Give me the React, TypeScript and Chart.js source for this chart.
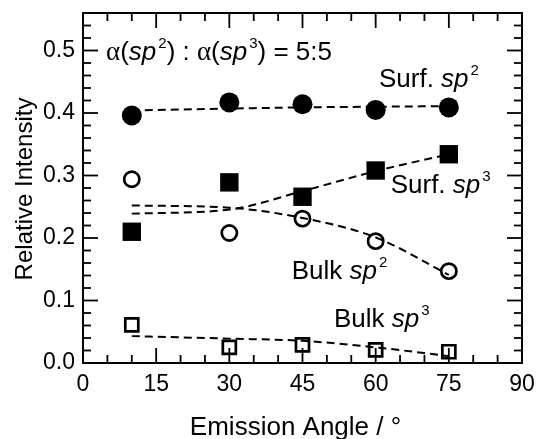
import React, { useEffect, useRef } from 'react';
import { Chart, registerables } from 'chart.js';

Chart.register(...registerables);

const FONT = '"Liberation Sans", Arial, sans-serif';
const SERIF = '"Liberation Serif", "DejaVu Serif", serif';

// Emission angle (deg)
const angles = [10, 30, 45, 60, 75];

// Measured relative intensities
const surfSp2 = [0.396, 0.417, 0.414, 0.405, 0.409];
const surfSp3 = [0.21, 0.289, 0.266, 0.308, 0.334];
const bulkSp2 = [0.294, 0.208, 0.231, 0.195, 0.147];
const bulkSp3 = [0.061, 0.025, 0.029, 0.021, 0.018];

// Calculated (dashed) curves
const surfSp2Fit = [0.404, 0.407, 0.409, 0.41, 0.411];
const surfSp3Fit = [0.239, 0.2455, 0.275, 0.307, 0.334];
const bulkSp2Fit = [0.252, 0.2485, 0.232, 0.201, 0.141];
const bulkSp3Fit = [0.043, 0.039, 0.0355, 0.025, 0.011];

const xTicks = [0, 15, 30, 45, 60, 75, 90];
const yTicks = [0, 0.1, 0.2, 0.3, 0.4, 0.5];

const xTitle = 'Emission Angle / °';
const yTitle = 'Relative Intensity';

// text parts: n = normal, i = italic, s = superscript, g = greek (serif)
type Part = [string, 'n' | 'i' | 's' | 'g'];
const annotations: { x: number; y: number; parts: Part[] }[] = [
  { x: 4.72, y: 0.4844, parts: [['α', 'g'], ['(', 'n'], ['sp', 'i'], ['2', 's'], [') : ', 'n'], ['α', 'g'], ['(', 'n'], ['sp', 'i'], ['3', 's'], [') = 5:5', 'n']] },
  { x: 60.68, y: 0.4423, parts: [['Surf. ', 'n'], ['sp', 'i'], ['2', 's']] },
  { x: 63.08, y: 0.272, parts: [['Surf. ', 'n'], ['sp', 'i'], ['3', 's']] },
  { x: 42.78, y: 0.1347, parts: [['Bulk ', 'n'], ['sp', 'i'], ['2', 's']] },
  { x: 51.46, y: 0.0578, parts: [['Bulk ', 'n'], ['sp', 'i'], ['3', 's']] },
];

const pts = (ys: number[]) => angles.map((a, i) => ({ x: a, y: ys[i] }));

const decorPlugin = {
  id: 'decor',
  afterDraw(chart: any) {
    const { ctx, chartArea: a, scales } = chart;
    const xs = scales.x;
    const ys = scales.y;
    ctx.save();
    ctx.strokeStyle = '#000';
    ctx.fillStyle = '#000';
    ctx.lineWidth = 2;
    ctx.strokeRect(a.left, a.top, a.right - a.left, a.bottom - a.top);
    const seg = (x1: number, y1: number, x2: number, y2: number) => {
      ctx.beginPath();
      ctx.moveTo(x1, y1);
      ctx.lineTo(x2, y2);
      ctx.stroke();
    };
    ctx.lineWidth = 1.8;
    for (let i = 1; i < 18; i++) {
      const px = xs.getPixelForValue(i * 5);
      const len = i % 3 === 0 ? 15 : 8;
      seg(px, a.bottom, px, a.bottom - len);
      seg(px, a.top, px, a.top + len);
    }
    for (let i = 1; i < 28; i++) {
      const py = ys.getPixelForValue(i * 0.02);
      const len = i % 5 === 0 ? 15 : 8;
      seg(a.left, py, a.left + len, py);
      seg(a.right, py, a.right - len, py);
    }
    // annotations
    ctx.textBaseline = 'alphabetic';
    ctx.textAlign = 'left';
    for (const an of annotations) {
      let x = xs.getPixelForValue(an.x);
      const y = ys.getPixelForValue(an.y);
      let prevItalic = false;
      for (const [t, k] of an.parts) {
        if (k === 's') {
          ctx.font = `15px ${FONT}`;
          x += prevItalic ? 2 : 0;
          ctx.fillText(t, x, y - 12);
        } else if (k === 'g') {
          ctx.font = `27px ${SERIF}`;
          ctx.fillText(t, x, y);
        } else {
          ctx.font = `${k === 'i' ? 'italic ' : ''}26px ${FONT}`;
          ctx.fillText(t, x, y);
        }
        x += ctx.measureText(t).width;
        prevItalic = k === 'i';
      }
    }
    // axis titles
    ctx.font = `26px ${FONT}`;
    ctx.textAlign = 'center';
    ctx.fillText(xTitle, (a.left + a.right) / 2 - 7, 435);
    ctx.save();
    ctx.translate(32, (a.top + a.bottom) / 2 + 1);
    ctx.rotate(-Math.PI / 2);
    ctx.font = `24px ${FONT}`;
    ctx.fillText(yTitle, 0, 0);
    ctx.restore();
    ctx.restore();
  },
};

export default function App() {
  const ref = useRef<HTMLCanvasElement>(null);
  useEffect(() => {
    const markerBase = { showLine: false, borderColor: '#000', pointBorderColor: '#000' };
    const lineBase = {
      showLine: true,
      borderColor: '#000',
      borderWidth: 2,
      borderDash: [8, 5],
      pointRadius: 0,
      fill: false,
      cubicInterpolationMode: 'monotone' as const,
    };
    const chart = new Chart(ref.current!, {
      type: 'scatter',
      data: {
        datasets: [
          { ...markerBase, label: 'Surf sp2', data: pts(surfSp2), pointStyle: 'circle', pointRadius: 10, pointBackgroundColor: '#000', pointBorderWidth: 0 },
          { ...markerBase, label: 'Surf sp3', data: pts(surfSp3), pointStyle: 'rect', pointRadius: 13, pointBackgroundColor: '#000', pointBorderWidth: 0 },
          { ...markerBase, label: 'Bulk sp2', data: pts(bulkSp2), pointStyle: 'circle', pointRadius: 7.6, pointBackgroundColor: 'rgba(0,0,0,0)', pointBorderWidth: 2.7 },
          { ...markerBase, label: 'Bulk sp3', data: pts(bulkSp3), pointStyle: 'rect', pointRadius: 9.2, pointBackgroundColor: 'rgba(0,0,0,0)', pointBorderWidth: 2.7 },
          { ...lineBase, label: 'Surf sp2 calc', data: pts(surfSp2Fit) },
          { ...lineBase, label: 'Surf sp3 calc', data: pts(surfSp3Fit) },
          { ...lineBase, label: 'Bulk sp2 calc', data: pts(bulkSp2Fit) },
          { ...lineBase, label: 'Bulk sp3 calc', data: pts(bulkSp3Fit) },
        ] as any,
      },
      options: {
        animation: false,
        responsive: false,
        devicePixelRatio: 1,
        events: [],
        layout: { padding: { top: 11, right: 20, left: 0, bottom: 0 } },
        plugins: { legend: { display: false }, tooltip: { enabled: false } },
        scales: {
          x: {
            type: 'linear',
            min: 0,
            max: 90,
            afterBuildTicks: (s: any) => {
              s.ticks = xTicks.map((v) => ({ value: v }));
            },
            afterFit: (s: any) => {
              s.height = 76;
              s.paddingLeft = 0;
              s.paddingRight = 0;
              s.paddingTop = 0;
              s.paddingBottom = 0;
            },
            grid: { display: false, drawTicks: false },
            border: { display: false },
            ticks: {
              color: '#000',
              font: { family: FONT, size: 23 },
              padding: 8,
              maxRotation: 0,
              autoSkip: false,
              callback: (v: any) => String(v),
            },
          },
          y: {
            type: 'linear',
            min: 0,
            max: 0.56,
            afterBuildTicks: (s: any) => {
              s.ticks = yTicks.map((v) => ({ value: v }));
            },
            afterFit: (s: any) => {
              s.width = 83;
              s.paddingLeft = 0;
              s.paddingRight = 0;
              s.paddingTop = 0;
              s.paddingBottom = 0;
            },
            grid: { display: false, drawTicks: false },
            border: { display: false },
            ticks: {
              color: '#000',
              font: { family: FONT, size: 23 },
              padding: 8,
              autoSkip: false,
              callback: (v: any) => Number(v).toFixed(1),
            },
          },
        },
      } as any,
      plugins: [decorPlugin],
    });
    return () => chart.destroy();
  }, []);
  return (
    <div style={{ position: 'fixed', left: 0, top: 0, width: 542, height: 439, background: '#fff' }}>
      <canvas ref={ref} width={542} height={439} style={{ display: 'block', width: 542, height: 439 }} />
    </div>
  );
}
